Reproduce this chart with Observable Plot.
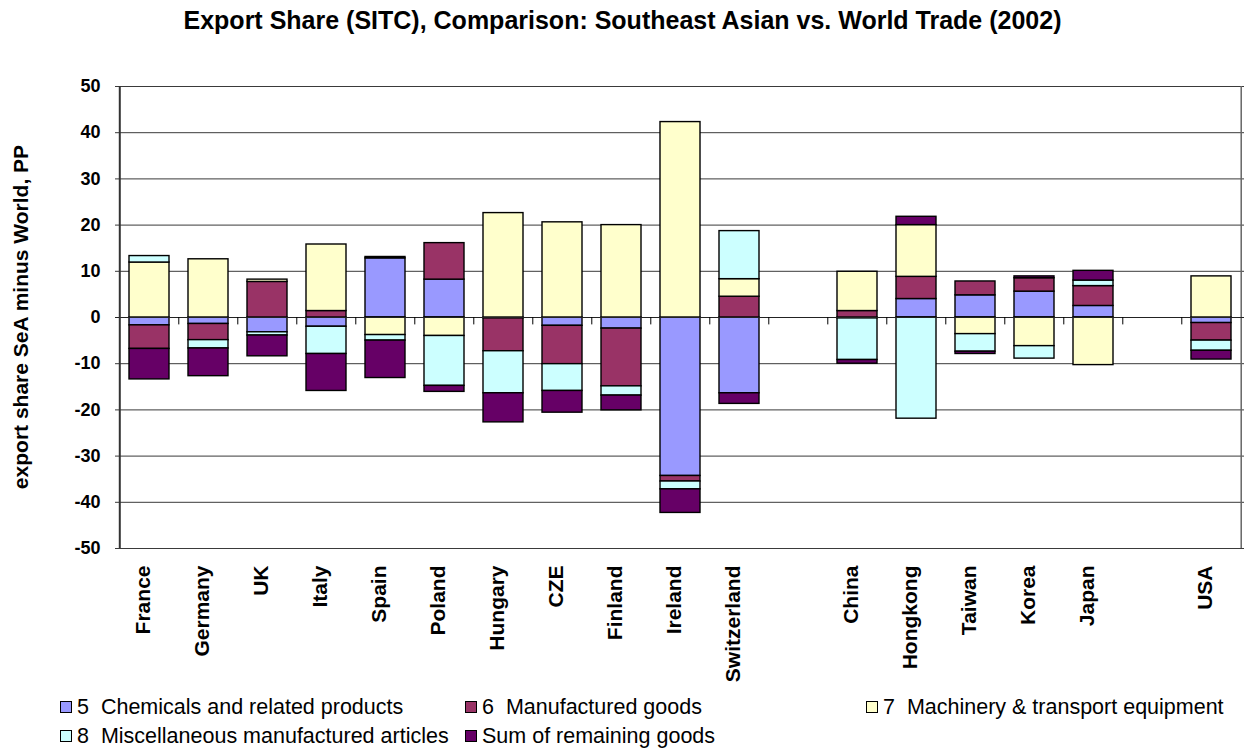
<!DOCTYPE html>
<html><head><meta charset="utf-8">
<script src="https://cdn.jsdelivr.net/npm/d3@7"></script>
<script src="https://cdn.jsdelivr.net/npm/@observablehq/plot@0.6"></script>
<style>
body{margin:0;background:#fff;font-family:"Liberation Sans",Arial,sans-serif;}
#wrap{position:relative;width:1245px;height:752px;overflow:hidden}
#title{position:absolute;top:5px;left:0;width:1245px;text-align:center;font-weight:bold;font-size:25px;color:#000;line-height:30px}
#ylab{position:absolute;left:21px;top:317px;transform:translate(-50%,-50%) rotate(-90deg);font-weight:bold;font-size:21px;white-space:nowrap;color:#000}
#chart{position:absolute;top:0;left:0}
.leg{position:absolute;font-size:21.5px;display:flex;align-items:center;white-space:nowrap;color:#000;line-height:22px}
.sw{width:10px;height:10px;border:1px solid #000;margin-right:5px;flex:none}
</style></head>
<body><div id="wrap">
<div id="chart"></div>
<div id="title">Export Share (SITC), Comparison: Southeast Asian vs. World Trade (2002)</div>
<div id="ylab">export share SeA minus World, PP</div>
<div id="legend"></div>
</div>
<script>
// x slots (blank entries are the gaps between country groups)
const slots = ["France","Germany","UK","Italy","Spain","Poland","Hungary","CZE","Finland","Ireland","Switzerland"," ","China","Hongkong","Taiwan","Korea","Japan","  ","USA"];
const countries = ["France","Germany","UK","Italy","Spain","Poland","Hungary","CZE","Finland","Ireland","Switzerland","China","Hongkong","Taiwan","Korea","Japan","USA"];
const seriesNames = ["5  Chemicals and related products","6  Manufactured goods","7  Machinery & transport equipment","8  Miscellaneous manufactured articles","Sum of remaining goods"];
const seriesColors = ["#9999FF","#993366","#FFFFCC","#CCFFFF","#660066"];
const chem5   = [-1.7,-1.4,-3.2,-2.0,12.8, 8.2,-0.2,-1.8,-2.4,-34.3,-16.4, -0.2, 4.0, 4.8, 5.6, 2.5, -1.2];
const manuf6  = [-5.1,-3.5, 7.7, 1.4, 0.3, 7.9,-7.1,-8.3,-12.5,-1.2, 4.5,  1.4, 4.8, 3.0, 2.9, 4.3, -3.8];
const mach7   = [11.9,12.6, 0.5,14.4,-3.8,-4.0,22.6,20.6,20.0,42.3, 3.8,  8.5,11.2,-3.6,-6.2,-10.3, 8.9];
const misc8   = [ 1.4,-1.8,-0.7,-5.9,-1.2,-10.8,-9.1,-5.8,-2.0,-1.7,10.4, -9.0,-21.9,-3.8,-2.7, 1.2, -2.2];
const remain  = [-6.6,-6.0,-4.5,-8.0,-8.1,-1.3,-6.3,-4.7,-3.2,-5.1,-2.3, -0.8, 1.8,-0.5, 0.4, 2.1, -1.9];
const yTicks = [-50,-40,-30,-20,-10,0,10,20,30,40,50];

const seriesValues = [chem5, manuf6, mach7, misc8, remain];
const rows = [];
seriesValues.forEach((vals, si) => countries.forEach((c, i) => rows.push({cat: c, series: seriesNames[si], value: vals[i]})));

const W = 1245, H = 690, ML = 115, MR = 1, MT = 86, MB = H - 548;
const step = (W - ML - MR) / slots.length;

const chart = Plot.plot({
  width: W, height: H, marginLeft: ML, marginRight: MR, marginTop: MT, marginBottom: MB,
  style: {fontFamily: "'Liberation Sans', Arial, sans-serif", fontSize: "16px", color: "#000", background: "transparent"},
  x: {domain: slots, paddingInner: 0.33, paddingOuter: 0.165, axis: null},
  y: {domain: [-50, 50], axis: null},
  color: {domain: seriesNames, range: seriesColors},
  marks: [
    Plot.ruleY(yTicks, {stroke: "#3a3a3a", strokeWidth: 1}),
    Plot.ruleX([slots[slots.length - 1]], {dx: step / 2, y1: -50, y2: 50, stroke: "#666", strokeWidth: 1.5}),
    Plot.barY(rows, {x: "cat", y: "value", fill: "series", stroke: "#000", strokeWidth: 1.4, order: null}),
    Plot.ruleY([0], {stroke: "#222", strokeWidth: 1}),
    Plot.ruleX(slots.slice(1), {x: d => d, dx: -step / 2, y1: 0, y2: -1.6, stroke: "#000", strokeWidth: 1}),
    Plot.ruleX([slots[0]], {dx: -step / 2, y1: -50, y2: 50, stroke: "#333", strokeWidth: 2}),
    Plot.tickY(yTicks, {y: d => d, x: slots[0], dx: -step / 2 - 3, stroke: "#000", strokeWidth: 1}),
    Plot.text(yTicks, {y: d => d, frameAnchor: "left", dx: -15, textAnchor: "end", text: d => String(d), fontWeight: "bold", fontSize: 18}),
    Plot.text(countries, {x: d => d, text: d => d, frameAnchor: "bottom", dy: 17, rotate: -90, textAnchor: "end", fontWeight: "bold", fontSize: 21})
  ]
});
document.getElementById("chart").appendChild(chart);

// legend
const legPos = [[60,696],[465,696],[866,696],[60,725],[465,725]];
const legend = document.getElementById("legend");
seriesNames.forEach((n, i) => {
  const d = document.createElement("div");
  d.className = "leg";
  d.style.left = legPos[i][0] + "px";
  d.style.top = legPos[i][1] + "px";
  const s = document.createElement("span");
  s.className = "sw";
  s.style.background = seriesColors[i];
  const t = document.createElement("span");
  t.textContent = n;
  t.style.whiteSpace = "pre";
  d.appendChild(s); d.appendChild(t);
  legend.appendChild(d);
});
</script>
</body></html>
